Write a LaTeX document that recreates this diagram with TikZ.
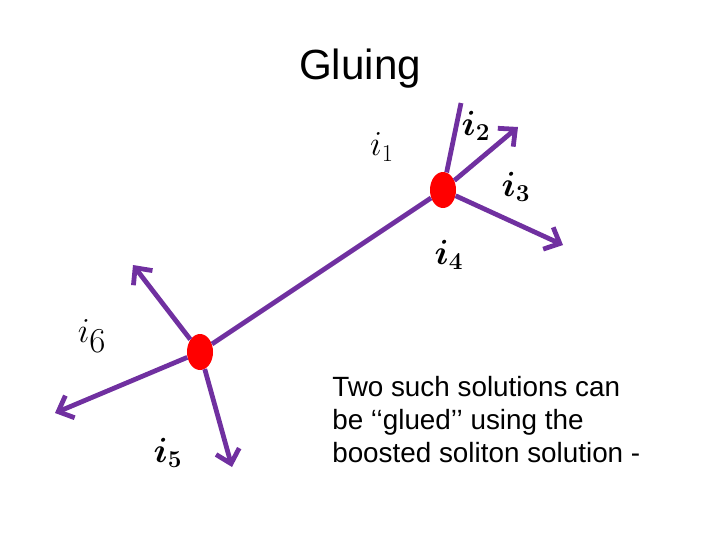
\documentclass[tikz,border=0pt]{standalone}
\usepackage{fontspec}
\setmainfont{Liberation Sans}
\usetikzlibrary{shapes.geometric,arrows.meta}
\definecolor{Plum}{RGB}{112,48,160}
\tikzset{
  gnode/.style={ellipse,fill=red,minimum width=0.65cm,minimum height=0.9cm,inner sep=0pt},
  gline/.style={Plum,line width=3.4pt},
  garrow/.style={gline,-{Straight Barb[length=3.2mm,width=6mm]}},
  glabel/.style={font=\fontsize{26}{30}\selectfont},
  gbold/.style={font=\fontsize{26}{30}\selectfont\mathversion{bold}},
}

\begin{document}
\begin{tikzpicture}[x=0.025cm,y=-0.025cm]
    \useasboundingbox (0,0) rectangle (720,540);
    % the two joined vertices
    \node[gnode] (up) at (443,190) {};
    \node[gnode] (down) at (200,352) {};
    \coordinate (u2) at (461,103);
    \coordinate (u3) at (518,127);
    \coordinate (u4) at (563,245);
    \coordinate (d6) at (133,265);
    \coordinate (d7) at (55,413);
    \coordinate (d5) at (232,467);
    \draw[gline] (up) -- (down);
    \draw[gline] (up) -- (u2);
    \draw[garrow] (up) -- (u3);
    \draw[garrow] (up) -- (u4);
    \draw[garrow] (down) -- (d6);
    \draw[garrow] (down) -- (d7);
    \draw[garrow] (down) -- (d5);
    % labels
    \node[font=\fontsize{30}{34}\selectfont] (title) at (360,69) {Gluing};
    \node[glabel] (l1) at (382,147) {$i_1$};
    \node[gbold] (l2) at (476,126) {$i_2$};
    \node[gbold] (l3) at (516,187) {$i_3$};
    \node[gbold] (l4) at (449,255) {$i_4$};
    \node[font=\fontsize{34}{38}\selectfont] (l6) at (92,336) {$i_6$};
    \node[gbold] (l5) at (168,453) {$i_5$};
    \node[anchor=north west,align=left,inner sep=0pt,
          font=\fontsize{19.8}{23.6}\selectfont] (note) at (332,376)
      {Two such solutions can\\be \symbol{"60}\symbol{"60}glued'{}' using the\\boosted soliton solution -};
\end{tikzpicture}
\end{document}
